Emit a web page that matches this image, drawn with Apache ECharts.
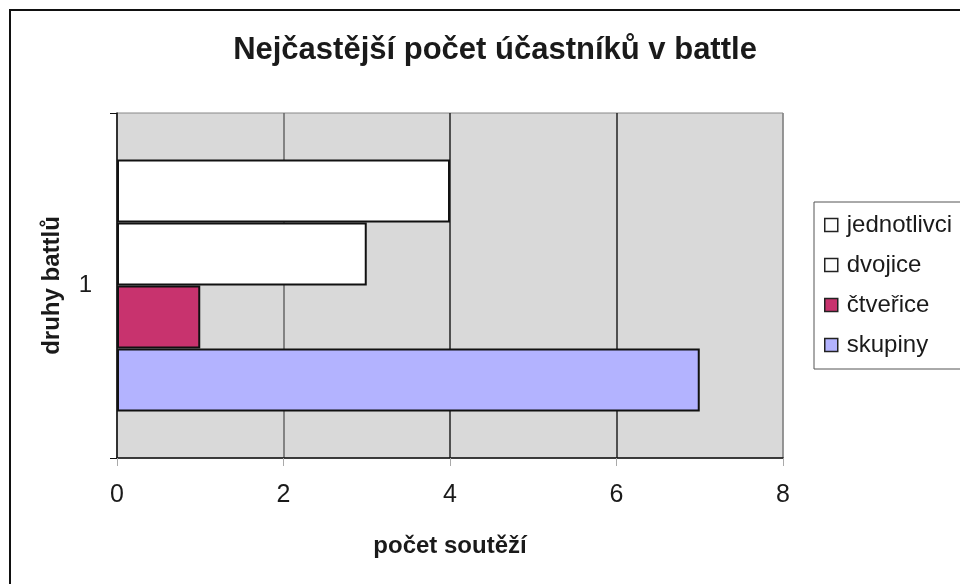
<!DOCTYPE html>
<html><head><meta charset="utf-8">
<script src="https://cdn.jsdelivr.net/npm/echarts@6/dist/echarts.min.js"></script>
<style>html,body{margin:0;padding:0;background:#fff}#c{width:960px;height:584px}</style>
</head><body><div id="c"></div>
<script>
const categories = ['1'];
const seriesNames = ['jednotlivci', 'dvojice', 'čtveřice', 'skupiny'];
const jednotlivci = [4];
const dvojice = [3];
const ctverice = [1];
const skupiny = [7];
const xTicks = [0, 2, 4, 6, 8];
const colors = ['#ffffff', '#ffffff', '#c8336e', '#b3b3ff'];
const values = [jednotlivci, dvojice, ctverice, skupiny];

const font = '"Liberation Sans", Arial, sans-serif';
const chart = echarts.init(document.getElementById('c'), null, {renderer: 'canvas'});
chart.setOption({
  animation: false,
  textStyle: {fontFamily: font},
  graphic: [{type: 'rect', shape: {x: 10, y: 10, width: 1000, height: 700}, style: {fill: 'none', stroke: '#111', lineWidth: 2}, z: 0}],
  title: {text: 'Nejčastější počet účastníků v battle', left: 495, textAlign: 'center', top: 35, padding: 0,
    textStyle: {fontFamily: font, fontSize: 31, fontWeight: 'bold', color: '#1a1a1a'}},
  legend: {orient: 'vertical', left: 814, top: 202, data: seriesNames, icon: 'rect', itemWidth: 13, itemHeight: 13,
    itemGap: 16, padding: [11, 60, 12, 10], borderColor: '#555', borderWidth: 1, backgroundColor: '#fff',
    textStyle: {fontFamily: font, fontSize: 24, color: '#1a1a1a', padding: [0, 0, 0, 4]},
    itemStyle: {borderColor: '#222', borderWidth: 1.5}},
  grid: {left: 117, right: 177, top: 113, bottom: 126, show: true, backgroundColor: '#d9d9d9', borderColor: '#888', borderWidth: 1},
  xAxis: {type: 'value', min: 0, max: 8, interval: 2, name: 'počet soutěží', nameLocation: 'middle', nameGap: 76,
    nameTextStyle: {fontFamily: font, fontSize: 24, fontWeight: 'bold', color: '#1a1a1a'},
    axisLine: {show: true, lineStyle: {color: '#111', width: 1.5}},
    axisTick: {show: true, length: 8, lineStyle: {color: '#aaa'}},
    axisLabel: {fontFamily: font, fontSize: 25, color: '#1a1a1a', margin: 25, formatter: v => xTicks.includes(v) ? String(v) : ''},
    splitLine: {show: true, lineStyle: {color: ['#888', '#666', '#222', '#222', '#888'], width: 1.5}}},
  yAxis: {type: 'category', data: categories, name: 'druhy battlů', nameLocation: 'middle', nameGap: 53,
    nameTextStyle: {fontFamily: font, fontSize: 24, fontWeight: 'bold', color: '#1a1a1a'},
    axisLine: {show: true, lineStyle: {color: '#111', width: 1.5}},
    axisTick: {show: true, length: 7, lineStyle: {color: '#111'}},
    axisLabel: {fontFamily: font, fontSize: 24, color: '#1a1a1a', margin: 25}},
  series: seriesNames.map((n, i) => ({
    name: n, type: 'bar', data: values[i], barGap: '0%', barCategoryGap: '27%',
    itemStyle: {color: colors[i], borderColor: '#111', borderWidth: 2}
  }))
});
</script></body></html>
